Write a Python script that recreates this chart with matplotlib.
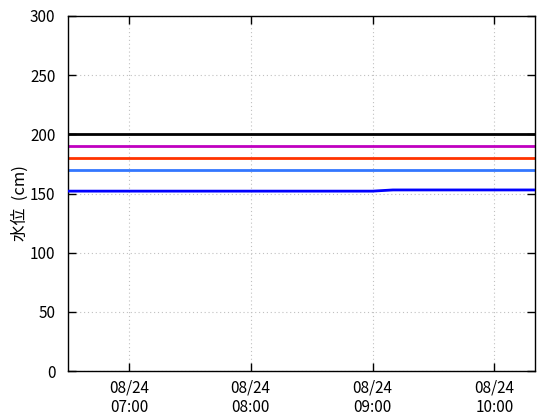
import datetime as dt

import matplotlib
matplotlib.use("Agg")
import matplotlib.dates as mdates
import matplotlib.pyplot as plt

plt.rcParams["font.family"] = ["Noto Sans CJK JP", "DejaVu Sans"]

# observation times (10 min steps) and water level readings
start = dt.datetime(2024, 8, 24, 6, 30)
times = [start + dt.timedelta(minutes=10 * i) for i in range(24)]
level = [152] * 16 + [153] * 8

# warning thresholds (cm)
thresholds = [200, 190, 180, 170]
threshold_colors = ["#000000", "#c000c0", "#ff3300", "#3377ff"]

fig = plt.figure(figsize=(5.6, 4.2), dpi=100)
ax = fig.add_axes([68 / 560, 49 / 420, 467 / 560, 355 / 420])

for value, color in zip(thresholds, threshold_colors):
    ax.axhline(value, color=color, linewidth=2, zorder=2)
ax.plot(times, level, color="#0000ff", linewidth=2, zorder=3)

ax.set_xlim(start, dt.datetime(2024, 8, 24, 10, 20))
ax.set_ylim(0, 300)
ax.set_yticks(range(0, 301, 50))
ax.xaxis.set_major_locator(mdates.HourLocator())
ax.xaxis.set_major_formatter(mdates.DateFormatter("%m/%d\n%H:%M"))

ax.grid(True, color="#c0c0c0", linestyle=(0, (1, 2.5)), linewidth=0.8)
ax.tick_params(direction="in", length=6, width=1, top=True, right=True, labelsize=11)
ax.tick_params(axis="y", pad=9)
ax.tick_params(axis="x", pad=6)
for spine in ax.spines.values():
    spine.set_linewidth(1)

fig.text(20 / 560, 1 - 203 / 420, "水位  (cm)", fontsize=12, rotation=90,
         ha="center", va="center")

fig.savefig("out.png", dpi=100)
